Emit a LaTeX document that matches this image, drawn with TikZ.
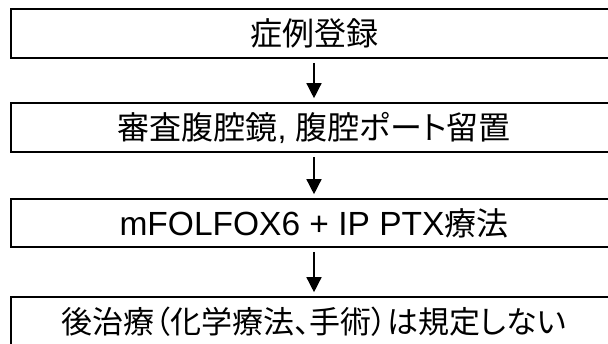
\documentclass[tikz,border=0pt]{standalone}
\usepackage{fontspec}
\setmainfont{Liberation Sans}
\newfontfamily\jp[RawFeature={+palt}]{Noto Sans CJK JP}
\usetikzlibrary{arrows.meta}
\begin{document}
\begin{tikzpicture}[x=1pt,y=-1pt,
  stepbox/.style={draw=black,line width=1.6pt,minimum width=606pt,inner sep=0pt,
    font=\fontsize{32}{38}\selectfont,text=black},
  flowarrow/.style={-{Triangle[width=15pt,length=15pt]},line width=1.4pt,
    shorten <=4pt,shorten >=4pt}]
\clip (0,0) rectangle (608,343);
\fill[white] (0,0) rectangle (608,343);
\node[stepbox,minimum height=49pt] (b1) at (314,33.5) {{\jp 症例登録}};
\node[stepbox,minimum height=49pt] (b2) at (314,127.5) {{\jp 審査腹腔鏡}, {\jp 腹腔ポート留置}};
\node[stepbox,minimum height=48pt] (b3) at (314,223) {{\fontsize{33.5}{38}\selectfont mFOLFOX6 + IP PTX}{\jp 療法}};
\node[stepbox,minimum height=49pt] (b4) at (314,321.5) {{\fontsize{31}{36}\selectfont\jp 後治療（化学療法、手術）は規定しない}};
\draw[flowarrow] (b1.south) -- (b2.north);
\draw[flowarrow] (b2.south) -- (b3.north);
\draw[flowarrow] (b3.south) -- (b4.north);
\end{tikzpicture}
\end{document}
